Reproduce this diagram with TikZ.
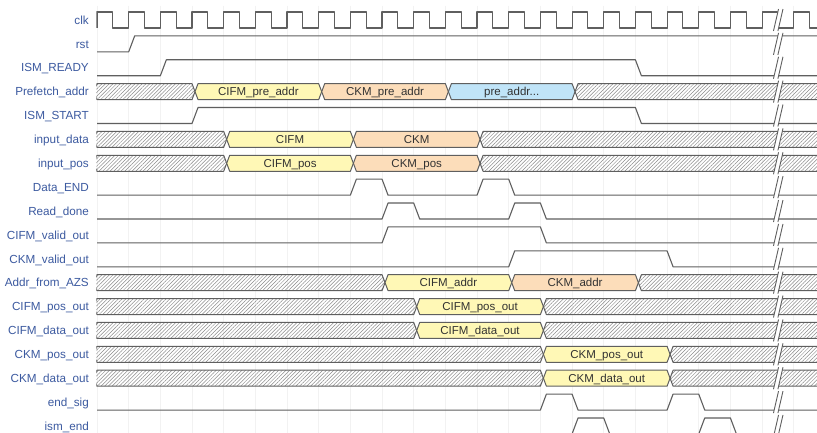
\documentclass[tikz,border=0pt]{standalone}
\usepackage{fontspec}
\setmainfont{Liberation Sans}
\usetikzlibrary{patterns.meta}
\definecolor{labblue}{RGB}{60,90,160}
\definecolor{busY}{RGB}{255,248,182}
\definecolor{busO}{RGB}{252,221,186}
\definecolor{busB}{RGB}{192,228,248}
\definecolor{wire}{RGB}{95,95,95}
\definecolor{txt}{RGB}{50,50,50}
\tikzset{
  sig/.style={draw=wire, line width=1.1pt, line join=round},
  busline/.style={draw=wire, line width=1pt, line join=round},
  hatch/.style={fill=black!6, pattern={Lines[angle=45, distance=2.6pt, line width=0.5pt]}, pattern color=black!45},
  fy/.style={fill=busY}, fo/.style={fill=busO}, fb/.style={fill=busB},
  lab/.style={text=labblue, font=\fontsize{11.7}{13}\selectfont, inner sep=0pt, anchor=base east},
  bustext/.style={text=txt, font=\fontsize{11.5}{13}\selectfont, inner sep=0pt, anchor=base},
  brk/.style={draw=wire, line width=0.9pt},
  gridline/.style={draw=black!5, line width=0.6pt}
}
% #1 row, #2 start edge, #3 end edge, #4 fill style
\newcommand\hatchseg[4]{%
  \path[#4] ({#2+0.19},{#1-0.335}) -- ({#3},{#1-0.335}) -- ({#3+0.095},{#1}) -- ({#3},{#1+0.335}) -- ({#2+0.19},{#1+0.335}) -- ({#2+0.095},{#1}) -- cycle;
  \draw[busline] ({#2+0.19},{#1-0.335}) -- ({#3},{#1-0.335}) -- ({#3+0.095},{#1}) -- ({#3},{#1+0.335}) -- ({#2+0.19},{#1+0.335}) -- ({#2+0.095},{#1}) -- cycle;
}
% #1 row, #2 a, #3 b, #4 fill style, #5 node name, #6 text
\newcommand\busseg[6]{%
  \hatchseg{#1}{#2}{#3}{#4}
  \node[bustext] (#5) at ({(#2+#3+0.19)/2},{#1+0.176}) {#6};
}
\begin{document}
\begin{tikzpicture}
\useasboundingbox (0pt,0pt) rectangle (817pt,-432pt);
\fill[white] (0pt,0pt) rectangle (817pt,-432pt);
\begin{scope}[shift={(97pt,-20pt)}, x=31.67pt, y=-23.88pt]
  % labels
  \node[lab] (l0)  at (-0.253, 0.176) {clk};
  \node[lab] (l1)  at (-0.253, 1.176) {rst};
  \node[lab] (l2)  at (-0.253, 2.176) {ISM\_READY};
  \node[lab] (l3)  at (-0.253, 3.176) {Prefetch\_addr};
  \node[lab] (l4)  at (-0.253, 4.176) {ISM\_START};
  \node[lab] (l5)  at (-0.253, 5.176) {input\_data};
  \node[lab] (l6)  at (-0.253, 6.176) {input\_pos};
  \node[lab] (l7)  at (-0.253, 7.176) {Data\_END};
  \node[lab] (l8)  at (-0.253, 8.176) {Read\_done};
  \node[lab] (l9)  at (-0.253, 9.176) {CIFM\_valid\_out};
  \node[lab] (l10) at (-0.253,10.176) {CKM\_valid\_out};
  \node[lab] (l11) at (-0.253,11.176) {Addr\_from\_AZS};
  \node[lab] (l12) at (-0.253,12.176) {CIFM\_pos\_out};
  \node[lab] (l13) at (-0.253,13.176) {CIFM\_data\_out};
  \node[lab] (l14) at (-0.253,14.176) {CKM\_pos\_out};
  \node[lab] (l15) at (-0.253,15.176) {CKM\_data\_out};
  \node[lab] (l16) at (-0.253,16.176) {end\_sig};
  \node[lab] (l17) at (-0.253,17.176) {ism\_end};
  \begin{scope}
    \clip (-0.02,-1) rectangle (22.8,18);
    % faint grid
    \foreach \k in {0,...,22} \draw[gridline] (\k,-0.6) -- (\k,17.8);
    % clock
    \draw[sig] (0,0.335) \foreach \k in {0,...,22} { -- (\k,-0.335) -- (\k+0.5,-0.335) -- (\k+0.5,0.335) -- (\k+1,0.335) };
    % single-bit signals
    \draw[sig] (0,1.335) -- (1,1.335) -- (1.19,0.665) -- (23,0.665);
    \draw[sig] (0,2.335) -- (2,2.335) -- (2.19,1.665) -- (17,1.665) -- (17.19,2.335) -- (23,2.335);
    \draw[sig] (0,4.335) -- (3,4.335) -- (3.19,3.665) -- (17,3.665) -- (17.19,4.335) -- (23,4.335);
    \draw[sig] (0,7.335) -- (8,7.335) -- (8.19,6.665) -- (9,6.665) -- (9.19,7.335) -- (12,7.335) -- (12.19,6.665) -- (13,6.665) -- (13.19,7.335) -- (23,7.335);
    \draw[sig] (0,8.335) -- (9,8.335) -- (9.19,7.665) -- (10,7.665) -- (10.19,8.335) -- (13,8.335) -- (13.19,7.665) -- (14,7.665) -- (14.19,8.335) -- (23,8.335);
    \draw[sig] (0,9.335) -- (9,9.335) -- (9.19,8.665) -- (14,8.665) -- (14.19,9.335) -- (23,9.335);
    \draw[sig] (0,10.335) -- (13,10.335) -- (13.19,9.665) -- (18,9.665) -- (18.19,10.335) -- (23,10.335);
    \draw[sig] (0,16.335) -- (14,16.335) -- (14.19,15.665) -- (15,15.665) -- (15.19,16.335) -- (18,16.335) -- (18.19,15.665) -- (19,15.665) -- (19.19,16.335) -- (23,16.335);
    \draw[sig] (0,17.335) -- (15,17.335) -- (15.19,16.665) -- (16,16.665) -- (16.19,17.335) -- (19,17.335) -- (19.19,16.665) -- (20,16.665) -- (20.19,17.335) -- (23,17.335);
    % buses
    \hatchseg{3}{-0.19}{3}{hatch}
    \busseg{3}{3}{7}{fy}{b3a}{CIFM\_pre\_addr}
    \busseg{3}{7}{11}{fo}{b3b}{CKM\_pre\_addr}
    \busseg{3}{11}{15}{fb}{b3c}{pre\_addr...}
    \hatchseg{3}{15}{23.5}{hatch}
    \hatchseg{5}{-0.19}{4}{hatch}
    \busseg{5}{4}{8}{fy}{b5a}{CIFM}
    \busseg{5}{8}{12}{fo}{b5b}{CKM}
    \hatchseg{5}{12}{23.5}{hatch}
    \hatchseg{6}{-0.19}{4}{hatch}
    \busseg{6}{4}{8}{fy}{b6a}{CIFM\_pos}
    \busseg{6}{8}{12}{fo}{b6b}{CKM\_pos}
    \hatchseg{6}{12}{23.5}{hatch}
    \hatchseg{11}{-0.19}{9}{hatch}
    \busseg{11}{9}{13}{fy}{b11a}{CIFM\_addr}
    \busseg{11}{13}{17}{fo}{b11b}{CKM\_addr}
    \hatchseg{11}{17}{23.5}{hatch}
    \hatchseg{12}{-0.19}{10}{hatch}
    \busseg{12}{10}{14}{fy}{b12a}{CIFM\_pos\_out}
    \hatchseg{12}{14}{23.5}{hatch}
    \hatchseg{13}{-0.19}{10}{hatch}
    \busseg{13}{10}{14}{fy}{b13a}{CIFM\_data\_out}
    \hatchseg{13}{14}{23.5}{hatch}
    \hatchseg{14}{-0.19}{14}{hatch}
    \busseg{14}{14}{18}{fy}{b14a}{CKM\_pos\_out}
    \hatchseg{14}{18}{23.5}{hatch}
    \hatchseg{15}{-0.19}{14}{hatch}
    \busseg{15}{14}{18}{fy}{b15a}{CKM\_data\_out}
    \hatchseg{15}{18}{23.5}{hatch}
    % time break marks
    \foreach \i in {0,...,17} {
      \fill[white] (21.36,\i+0.46) -- (21.52,\i-0.46) -- (21.66,\i-0.46) -- (21.50,\i+0.46) -- cycle;
      \draw[brk] (21.36,\i+0.46) -- (21.52,\i-0.46) (21.50,\i+0.46) -- (21.66,\i-0.46);
    }
  \end{scope}
\end{scope}
\end{tikzpicture}
\end{document}
